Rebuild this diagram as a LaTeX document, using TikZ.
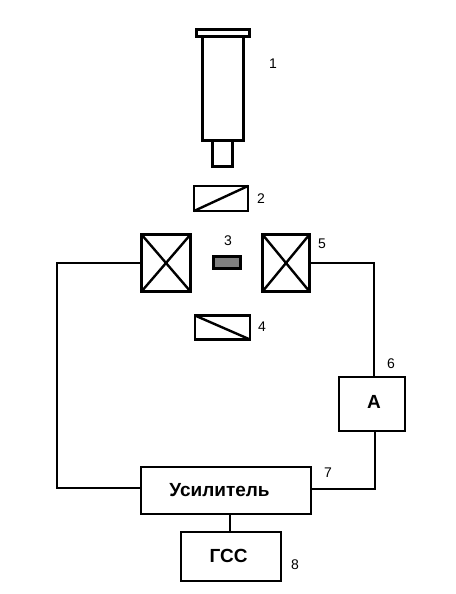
\documentclass[tikz,border=0pt]{standalone}
\usepackage{fontspec}
\setmainfont{Liberation Sans}
\tikzset{
  thick box/.style={draw, line width=3pt, inner sep=0pt, outer sep=0pt},
  thin box/.style={draw, line width=2.4pt, inner sep=0pt, outer sep=0pt},
  wire/.style={line width=2pt},
  num/.style={font=\fontsize{14}{14}\selectfont, inner sep=0pt},
  title/.style={font=\fontsize{19}{19}\bfseries\selectfont, inner sep=0pt}
}
\begin{document}
\begin{tikzpicture}[x=1pt, y=-1pt] % coordonnées en pixels de la figure
  \useasboundingbox (0,0) rectangle (455,594);

  % Seringue
  \node[thick box, minimum width=41pt, minimum height=103pt] (barrel) at (223,88.5) {};
  \node[thick box, minimum width=20pt, minimum height=26pt] (tip) at (222.5,153.5) {};
  \node[thick box, minimum width=53pt, minimum height=7pt, fill=white] (cap) at (223,33) {};

  % Boites 2 et 4
  \node[thin box, minimum width=54pt, minimum height=25pt] (upper) at (221,198.5) {};
  \node[thin box, minimum width=55pt, minimum height=24pt] (lower) at (222.5,327.5) {};
  \draw[thin box] (upper.south west) -- (upper.north east);
  \draw[thin box] (lower.north west) -- (lower.south east);

  % Bobines
  \node[thick box, minimum width=49pt, minimum height=57pt] (coilL) at (166,263) {};
  \node[thick box, minimum width=47pt, minimum height=57pt] (coilR) at (286,263) {};
  \foreach \c in {coilL,coilR} {
    \draw[thin box] (\c.north west) -- (\c.south east);
    \draw[thin box] (\c.north east) -- (\c.south west);
  }

  % Echantillon
  \node[thick box, fill=gray, minimum width=27pt, minimum height=12pt] (sample) at (227,262.5) {};

  % Blocs du bas
  \node[thin box, line width=2pt, minimum width=66pt, minimum height=54pt] (det) at (372,404) {};
  \node[thin box, line width=2pt, minimum width=170pt, minimum height=47pt] (ampli) at (226,490.5) {};
  \node[thin box, line width=2pt, minimum width=100pt, minimum height=49pt] (gen) at (231,556.5) {};

  % Textes des blocs
  \node[title] (detname) at (374,402) {A};
  \node[title] (ampliname) at (219.5,490) {Усилитель};
  \node[title] (genname) at (228.5,556) {ГСС};

  % Liaisons
  \coordinate (leftbus) at (57,263);
  \draw[wire] (coilL.west) -- (leftbus) |- ([yshift=2.5pt]ampli.west);
  \draw[wire] (coilR.east) -| ([xshift=2pt]det.north);
  \draw[wire] ([yshift=1.5pt]ampli.east) -| ([xshift=3pt]det.south);
  \draw[wire] (ampli.south) ++(4,0) -- ([xshift=-1pt]gen.north);

  % Numéros
  \foreach \n/\px/\py in {1/273/64,2/261/199,3/228/241,4/262/327,5/322/244,6/391/364,7/328/473,8/295/565} {
    \node[num] (lab\n) at (\px,\py) {\n};
  }
\end{tikzpicture}
\end{document}
